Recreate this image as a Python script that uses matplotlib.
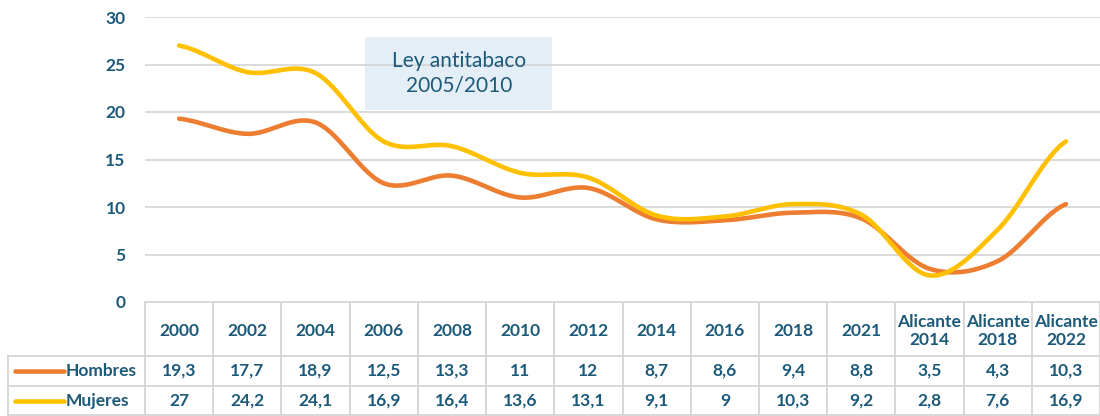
import matplotlib.pyplot as plt
from matplotlib.patches import Rectangle
import numpy as np

years = ['2000', '2002', '2004', '2006', '2008', '2010', '2012', '2014', '2016',
         '2018', '2021', 'Alicante\n2014', 'Alicante\n2018', 'Alicante\n2022']
hombres = [19.3, 17.7, 18.9, 12.5, 13.3, 11, 12, 8.7, 8.6, 9.4, 8.8, 3.5, 4.3, 10.3]
mujeres = [27, 24.2, 24.1, 16.9, 16.4, 13.6, 13.1, 9.1, 9, 10.3, 9.2, 2.8, 7.6, 16.9]
hombres_txt = ['19,3', '17,7', '18,9', '12,5', '13,3', '11', '12', '8,7', '8,6', '9,4', '8,8', '3,5', '4,3', '10,3']
mujeres_txt = ['27', '24,2', '24,1', '16,9', '16,4', '13,6', '13,1', '9,1', '9', '10,3', '9,2', '2,8', '7,6', '16,9']

plt.rcParams['font.family'] = ['Lato', 'DejaVu Sans']
txt_color = '#1d5a7a'
c_h = '#ed7d31'
c_m = '#ffc000'
grid_c = '#d4d4d4'
fs = 12.5


def smooth(y, n=30):
    # catmull-rom style smoothing, like excel "smoothed line"
    x = np.arange(len(y), dtype=float)
    p = np.array(y, dtype=float)
    xs, ys = [], []
    for i in range(len(p) - 1):
        p0 = p[i - 1] if i > 0 else p[i]
        p3 = p[i + 2] if i + 2 < len(p) else p[i + 1]
        p1, p2 = p[i], p[i + 1]
        t = np.linspace(0, 1, n, endpoint=False)
        ys.extend(0.5 * (2 * p1 + (-p0 + p2) * t + (2 * p0 - 5 * p1 + 4 * p2 - p3) * t ** 2
                         + (-p0 + 3 * p1 - 3 * p2 + p3) * t ** 3))
        xs.extend(x[i] + t)
    xs.append(x[-1])
    ys.append(p[-1])
    return np.array(xs), np.array(ys)


W, H = 1100, 416
fig = plt.figure(figsize=(11, 4.16), dpi=100)

x0, ytop, ybot = 145, 17, 302
ax = fig.add_axes([x0 / W, 1 - ybot / H, (W - x0) / W, (ybot - ytop) / H])
ncat = len(years)
ax.set_xlim(-0.5, ncat - 0.5)
ax.set_ylim(0, 30)
for v in range(0, 31, 5):
    ax.axhline(v, color=grid_c, lw=1.2, zorder=1)
ax.set_yticks(range(0, 31, 5))
ax.tick_params(axis='y', length=0, pad=14, labelsize=fs, labelcolor=txt_color)
for lab in ax.get_yticklabels():
    lab.set_fontweight('bold')
ax.set_xticks([])
for s in ax.spines.values():
    s.set_visible(False)

# annotation box
ax.add_patch(Rectangle((2.73, 20.2), 2.74, 7.7, fc='#e3eef7', ec='none', zorder=0.5))
ax.text(4.1, 24.1, 'Ley antitabaco\n2005/2010', ha='center', va='center', fontsize=15,
        color=txt_color, linespacing=1.3, zorder=2)

xs, ys = smooth(hombres)
ax.plot(xs, ys, color=c_h, lw=3.3, solid_capstyle='round', zorder=3)
xs, ys = smooth(mujeres)
ax.plot(xs, ys, color=c_m, lw=3.3, solid_capstyle='round', zorder=4)

# data table drawn in pixel coordinates
tab = fig.add_axes([0, 0, 1, 1], zorder=-1)
tab.set_xlim(0, W)
tab.set_ylim(H, 0)
tab.axis('off')
colw = (W - x0) / ncat
r0, r1, r2, r3 = 302, 356, 386, 416
lkw = dict(color=grid_c, lw=1.3)
tab.plot([x0, W], [r0, r0], **lkw)
tab.plot([8, W], [r1, r1], **lkw)
tab.plot([8, W], [r2, r2], **lkw)
tab.plot([8, W], [r3 - 1, r3 - 1], **lkw)
tab.plot([8, 8], [r1, r3], **lkw)
for i in range(ncat + 1):
    xv = x0 + i * colw
    tab.plot([xv, xv], [r0, r3], **lkw)

fk = dict(ha='center', va='center', color=txt_color, fontsize=fs, fontweight='bold')
for i in range(ncat):
    cx = x0 + (i + 0.5) * colw
    tab.text(cx, (r0 + r1) / 2 + 2, years[i], linespacing=1.1, **fk)
    tab.text(cx, (r1 + r2) / 2, hombres_txt[i], **fk)
    tab.text(cx, (r2 + r3) / 2, mujeres_txt[i], **fk)

tab.plot([15, 64], [(r1 + r2) / 2, (r1 + r2) / 2], color=c_h, lw=3.3, solid_capstyle='round')
tab.plot([15, 64], [(r2 + r3) / 2, (r2 + r3) / 2], color=c_m, lw=3.3, solid_capstyle='round')
tab.text(66, (r1 + r2) / 2, 'Hombres', ha='left', va='center', color=txt_color,
         fontsize=fs, fontweight='bold')
tab.text(66, (r2 + r3) / 2, 'Mujeres', ha='left', va='center', color=txt_color,
         fontsize=fs, fontweight='bold')

fig.savefig('out.png', dpi=100)
